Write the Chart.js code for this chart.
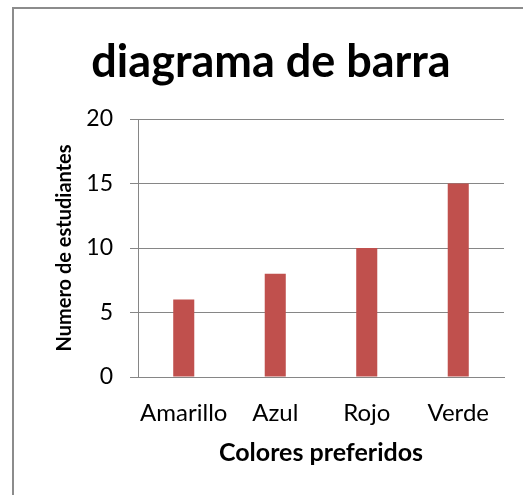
<!DOCTYPE html>
<html lang="es">
<head>
    <meta charset="UTF-8">
    <title>diagrama de barra</title>
    <script src="https://cdn.jsdelivr.net/npm/chart.js"></script>
    <style>
        body {
            margin: 0;
            background: white;
            font-family: Lato, sans-serif;
        }
        #wrap {
            position: relative;
            width: 523px;
            height: 495px;
            overflow: hidden;
        }
        #frame {
            position: absolute;
            left: 12px;
            top: 7px;
            width: 600px;
            height: 600px;
            border-left: 2px solid #8c8c8c;
            border-top: 2px solid #8c8c8c;
        }
        canvas {
            position: absolute;
            left: 0;
            top: 0;
        }
    </style>
</head>
<body>
    <div id="wrap">
        <div id="frame"></div>
        <canvas id="chart" width="523" height="495"></canvas>
    </div>

    <script>
        const colores = ['Amarillo', 'Azul', 'Rojo', 'Verde'];
        const estudiantes = [6, 8, 10, 15];
        const yMin = 0;
        const yMax = 20;
        const yStep = 5;

        const ctx = document.getElementById('chart').getContext('2d');
        new Chart(ctx, {
            type: 'bar',
            data: {
                labels: colores,
                datasets: [{
                    label: 'Numero de estudiantes',
                    data: estudiantes,
                    backgroundColor: '#c0504d',
                    borderWidth: 0,
                    categoryPercentage: 1,
                    barPercentage: 0.23
                }]
            },
            options: {
                responsive: false,
                animation: false,
                // left padding keeps the big title centred on the whole frame
                layout: { padding: { left: 38, right: 19, top: 0, bottom: 0 } },
                plugins: {
                    legend: { display: false },
                    tooltip: { enabled: false },
                    title: {
                        display: true,
                        text: 'diagrama de barra',
                        color: '#000',
                        font: { family: 'Lato', size: 45, weight: 'bold', lineHeight: 1.2 },
                        padding: { top: 35, bottom: 30 }
                    }
                },
                scales: {
                    x: {
                        afterFit: s => { s.height = 118; },
                        grid: { display: false, drawTicks: false },
                        border: { display: true, color: '#868686', width: 1 },
                        ticks: {
                            color: '#000', padding: 22, maxRotation: 0, minRotation: 0, autoSkip: false,
                            font: { family: 'Lato', size: 24 }
                        },
                        title: {
                            display: true,
                            text: 'Colores preferidos',
                            color: '#000',
                            font: { family: 'Lato', size: 25, weight: 'bold', lineHeight: 1.2 },
                            padding: { top: 0, bottom: 27 }
                        }
                    },
                    y: {
                        min: yMin,
                        max: yMax,
                        afterFit: s => { s.width = 100; },
                        grid: { color: '#868686', tickLength: 8, tickColor: '#868686' },
                        border: { display: true, color: '#868686', width: 1 },
                        ticks: { stepSize: yStep, color: '#000', padding: 17, font: { family: 'Lato', size: 23 } },
                        title: {
                            display: true,
                            text: 'Numero de estudiantes',
                            color: '#000',
                            font: { family: 'Lato', size: 20, weight: 'bold', lineHeight: 1.2 },
                            padding: { top: 15, bottom: 0 }
                        }
                    }
                }
            }
        });
    </script>
</body>
</html>
